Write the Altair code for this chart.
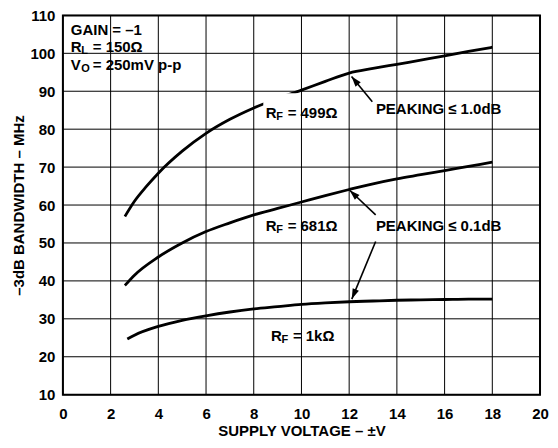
import math
import altair as alt
import pandas as pd

# ---- data ----
x_rf499 = [2.6, 3, 3.5, 4, 5, 6, 7, 8, 9, 10, 11, 12, 13, 14, 15, 16, 17, 18]
bw_rf499 = [57.0, 61.0, 64.9, 68.4, 74.2, 78.9, 82.6, 85.6, 88.1, 90.3, 92.6, 94.8, 96.0, 97.1, 98.2, 99.3, 100.5, 101.6]

x_rf681 = [2.6, 3, 4, 5, 6, 7, 8, 9, 10, 11, 12, 13, 14, 15, 16, 17, 18]
bw_rf681 = [38.8, 41.5, 46.3, 50.0, 53.0, 55.3, 57.4, 59.1, 60.8, 62.5, 64.1, 65.6, 66.9, 68.0, 69.1, 70.2, 71.3]

x_rf1k = [2.7, 3, 4, 5, 6, 7, 8, 9, 10, 11, 12, 13, 14, 15, 16, 17, 18]
bw_rf1k = [24.7, 25.7, 28.0, 29.6, 30.8, 31.8, 32.6, 33.2, 33.8, 34.2, 34.5, 34.7, 34.9, 35.0, 35.1, 35.2, 35.2]

x_ticks = list(range(0, 21, 2))
y_ticks = list(range(10, 111, 10))

# annotation text
plain_text = ["GAIN = –1", "PEAKING ≤ 1.0dB", "PEAKING ≤ 0.1dB"]
plain_x = [0.33, 13.12, 13.12]
plain_y = [106.1, 85.4, 54.5]

sub_main = ["R", "R", "R", "R", "V"]
sub_sub = ["F", "F", "F", "L", "O"]
sub_rest = ["= 499Ω", "= 681Ω", "= 1kΩ", "= 150Ω", "= 250mV p-p"]
sub_x = [8.5, 8.5, 8.72, 0.33, 0.33]
sub_y = [84.3, 54.5, 25.4, 101.6, 96.8]

# white boxes behind labels
box_x = [0.0, 8.4, 12.9, 8.35, 12.9, 8.6]
box_x2 = [5.8, 11.95, 18.85, 11.95, 18.85, 11.85]
box_y = [92.0, 81.7, 82.0, 50.8, 50.8, 22.6]
box_y2 = [110.0, 89.5, 88.3, 57.6, 57.6, 29.4]

# arrows (tail -> tip)
arr_x = [12.97, 13.11, 13.11]
arr_y = [87.2, 57.4, 50.4]
arr_x2 = [12.10, 12.02, 12.11]
arr_y2 = [93.9, 63.9, 35.2]

W, H = 478, 380
XMIN, XMAX, YMIN, YMAX = 0, 20, 10, 110
FONT = "Liberation Sans"
FS = 15

curves = pd.concat([
    pd.DataFrame({"v": x_rf499, "bw": bw_rf499, "s": "499"}),
    pd.DataFrame({"v": x_rf681, "bw": bw_rf681, "s": "681"}),
    pd.DataFrame({"v": x_rf1k, "bw": bw_rf1k, "s": "1k"}),
])

xs = alt.Scale(domain=[XMIN, XMAX], nice=False, zero=False)
ys = alt.Scale(domain=[YMIN, YMAX], nice=False, zero=False)

x_axis = alt.Axis(values=x_ticks, title="SUPPLY VOLTAGE – ±V", grid=False,
                  domain=False, ticks=False, labelPadding=12,
                  labelFlush=False, labelOverlap=False, labelFont=FONT, labelFontSize=FS,
                  labelFontWeight="bold", labelColor="black", titleFont=FONT, titleFontSize=FS,
                  titleFontWeight="bold", titleColor="black", titlePadding=2)
y_axis = alt.Axis(values=y_ticks, title="–3dB BANDWIDTH – MHz", grid=False,
                  domain=False, ticks=False, labelPadding=8,
                  labelFlush=False, labelOverlap=False, labelFont=FONT, labelFontSize=FS,
                  labelFontWeight="bold", labelColor="black", titleFont=FONT, titleFontSize=FS,
                  titleFontWeight="bold", titleColor="black", titlePadding=3)

def X(f):
    return alt.X(f, scale=xs, axis=None)

def Y(f):
    return alt.Y(f, scale=ys, axis=None)

lines = alt.Chart(curves).mark_line(color="black", strokeWidth=2.8, interpolate="monotone").encode(
    x=alt.X("v:Q", scale=xs, axis=x_axis), y=alt.Y("bw:Q", scale=ys, axis=y_axis), detail="s:N")

# grid as rules, drawn over the white label boxes
vg = pd.DataFrame({"g": x_ticks, "lo": YMIN, "hi": YMAX})
hg = pd.DataFrame({"g": y_ticks, "lo": XMIN, "hi": XMAX})
vgrid = alt.Chart(vg).mark_rule(color="black", strokeWidth=1).encode(
    x=X("g:Q"), y=Y("lo:Q"), y2="hi:Q")
hgrid = alt.Chart(hg).mark_rule(color="black", strokeWidth=1).encode(
    y=Y("g:Q"), x=X("lo:Q"), x2="hi:Q")

boxes = alt.Chart(pd.DataFrame({"x": box_x, "x2": box_x2, "y": box_y, "y2": box_y2})).mark_rect(
    color="white").encode(x=X("x:Q"), x2="x2:Q", y=Y("y:Q"), y2="y2:Q")

border = alt.Chart(pd.DataFrame({"x": [XMIN], "x2": [XMAX], "y": [YMIN], "y2": [YMAX]})).mark_rect(
    filled=False, stroke="black", strokeWidth=2).encode(x=X("x:Q"), x2="x2:Q", y=Y("y:Q"), y2="y2:Q")

# arrows
arr = pd.DataFrame({"x": arr_x, "y": arr_y, "x2": arr_x2, "y2": arr_y2})
def _ang(r):
    dxp = (r.x2 - r.x) * W / (XMAX - XMIN)
    dyp = -(r.y2 - r.y) * H / (YMAX - YMIN)
    return math.degrees(math.atan2(dxp, -dyp)) % 360
arr["ang"] = arr.apply(_ang, axis=1)

arrow_lines = alt.Chart(arr).mark_rule(color="black", strokeWidth=1.6).encode(
    x=X("x:Q"), y=Y("y:Q"), x2="x2:Q", y2="y2:Q")
arrow_heads = alt.Chart(arr).mark_point(
    shape="M0,0L-0.55,1.7L0.55,1.7Z", filled=True, color="black", opacity=1, size=150).encode(
    x=X("x2:Q"), y=Y("y2:Q"), angle=alt.Angle("ang:Q", scale=None))

txt_kw = dict(font=FONT, fontWeight="bold", color="black", align="left", baseline="middle")
plain = alt.Chart(pd.DataFrame({"x": plain_x, "y": plain_y, "t": plain_text})).mark_text(
    fontSize=FS, **txt_kw).encode(x=X("x:Q"), y=Y("y:Q"), text="t:N")

sdf = pd.DataFrame({"x": sub_x, "y": sub_y, "m": sub_main, "s": sub_sub, "r": sub_rest})
base = alt.Chart(sdf).encode(x=X("x:Q"), y=Y("y:Q"))
t_main = base.mark_text(fontSize=FS, **txt_kw).encode(text="m:N")
t_sub = base.mark_text(fontSize=11, dx=10.5, dy=4, **txt_kw).encode(text="s:N")
t_rest = base.mark_text(fontSize=FS, dx=22, **txt_kw).encode(text="r:N")

chart = alt.layer(lines, boxes, vgrid, hgrid, arrow_lines, arrow_heads, plain, t_main, t_sub, t_rest,
                  border).resolve_axis(x="independent", y="independent").properties(
    width=W, height=H,
    autosize=alt.AutoSizeParams(type="none"),
    padding={"left": 55, "top": 7, "right": 10, "bottom": 45},
).configure_view(stroke=None).configure(background="white")

chart.save("out.html", embed_options={"renderer": "svg", "actions": False})
